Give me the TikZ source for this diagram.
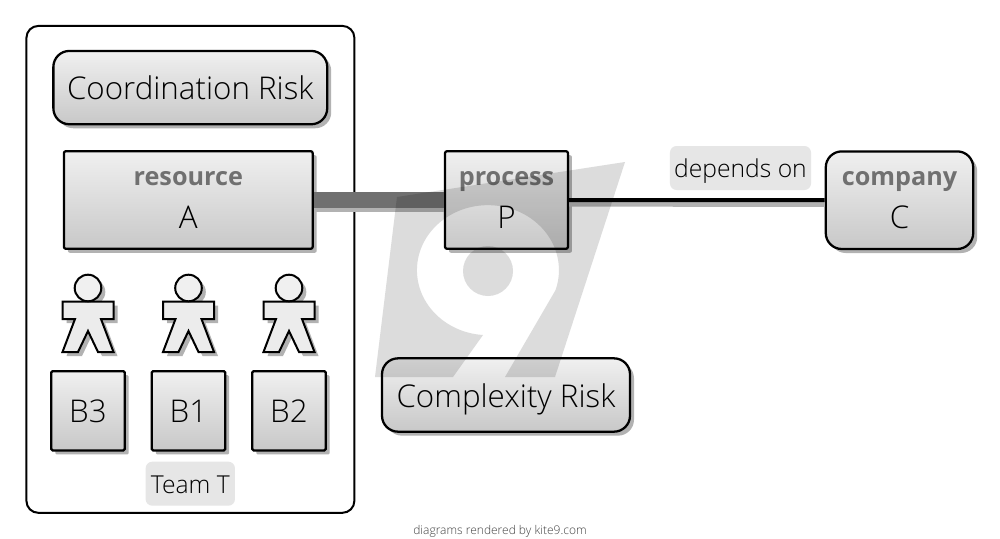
\documentclass[tikz,border=0pt]{standalone}
\usepackage{fontspec}
\setmainfont{Open Sans Light}[BoldFont={Open Sans Bold}]
\usetikzlibrary{shadows,calc}
\definecolor{boxtop}{HTML}{F0F0F0}
\definecolor{boxbot}{HTML}{C8C8C8}
\definecolor{logo}{HTML}{DCDCDC}
\definecolor{headgray}{HTML}{707070}
\definecolor{labelbg}{HTML}{E6E6E6}
\tikzset{
  x=0.75pt,y=-0.75pt,
  shade box/.style={draw=black,line width=1.7pt,top color=boxtop,bottom color=boxbot,
    text=black,align=center,inner sep=0pt,font=\fontsize{23.5}{28}\selectfont,
    general shadow={fill=black!30,shadow xshift=3pt,shadow yshift=-3pt,draw=none}},
  one line/.style={text height=18.2pt,text depth=0pt},
  two line/.style={text depth=-1.5pt},
  tag/.style={fill=labelbg,rounded corners=5pt,minimum height=33pt,inner sep=0pt,
    font=\fontsize{18.5}{22}\selectfont,text=black,text height=14.5pt,text depth=0pt},
}
\newcommand{\twoline}[2]{{\fontsize{18.9}{22}\selectfont\bfseries\color{headgray}#1}\\[4.3pt]#2}
\begin{document}
\begin{tikzpicture}
\useasboundingbox (0,0) rectangle (1000,539);
\fill[white] (0,0) rectangle (1000,539);
\node[draw=black,line width=1.5pt,rounded corners=9pt,minimum width=246pt,minimum height=365.2pt,anchor=north west,inner sep=0pt] (team) at (25.4,24.9) {};
\node[shade box,one line,rounded corners=12pt,minimum width=205.4pt,minimum height=55pt] (coord) at (190.3,87.6) {Coordination Risk};
\node[shade box,two line,rounded corners=1.5pt,minimum width=186.6pt,minimum height=73.2pt] (res) at (188.3,200) {\twoline{resource}{A}};
\node[shade box,two line,rounded corners=1.5pt,minimum width=92.2pt,minimum height=73.2pt] (proc) at (506.5,200) {\twoline{process}{P}};
\node[shade box,two line,rounded corners=12pt,minimum width=110.6pt,minimum height=73.2pt] (comp) at (899.5,200.2) {\twoline{company}{C}};
\node[shade box,one line,rounded corners=12pt,minimum width=186pt,minimum height=55pt] (cplx) at (506,395) {Complexity Risk};
\foreach \n/\x/\t in {b3/88/B3,b1/188.5/B1,b2/289/B2}{
  \node[shade box,one line,rounded corners=1pt,minimum width=55pt,minimum height=59.5pt] (\n) at (\x,410.8) {\t};
}
\foreach \x in {88,188.5,289}{
  \begin{scope}[shift={(\x,0)}]
  \def\fig{(-25.5,301.7) -- (25.5,301.7) -- (25.5,319) -- (13,319) -- (25.5,352) -- (10,352) -- (0,331) -- (-10,352) -- (-25.5,352) -- (-13,319) -- (-25.5,319) -- cycle}
  \fill[black!30,shift={(4,4)}] \fig;
  \fill[black!30,shift={(4,4)}] (0,288) circle[radius=13.3];
  \draw[line width=1.5pt,fill=boxtop!90!boxbot,line join=miter] \fig;
  \draw[line width=1.5pt,fill=boxtop] (0,288) circle[radius=13.3];
  \end{scope}
}
\node[tag,minimum width=67pt] (tlab) at (190.3,483.7) {Team T};
\node[tag,minimum width=105.8pt] (dep) at (740.5,168) {depends on};
% connectors
\draw[black!30,line width=4pt] ($(proc.east)+(0,4)$) -- ($(comp.west)+(0,4)$);
\draw[black,line width=3pt] (proc.east) -- (comp.west);
\draw[black!30,line width=12pt] ($(res.east)+(0,4)$) -- ($(proc.west)+(0,4)$);
\draw[headgray,line width=12pt] (res.east) -- (proc.west);
\node[font=\fontsize{9}{11}\selectfont,text=black!75] (foot) at (500,531.5) {diagrams rendered by kite9.com};
% logo overlay
\begin{scope}[blend mode=multiply]
\fill[logo] (625,162) -- (397,197) -- (375,377) -- (453,377) -- (483,335)
  arc[start angle=94,end angle=378,x radius=71,y radius=65]
  -- (505,377) -- (555,377) -- cycle;
\fill[logo] (488,271) circle[radius=25];
\end{scope}
\end{tikzpicture}
\end{document}
